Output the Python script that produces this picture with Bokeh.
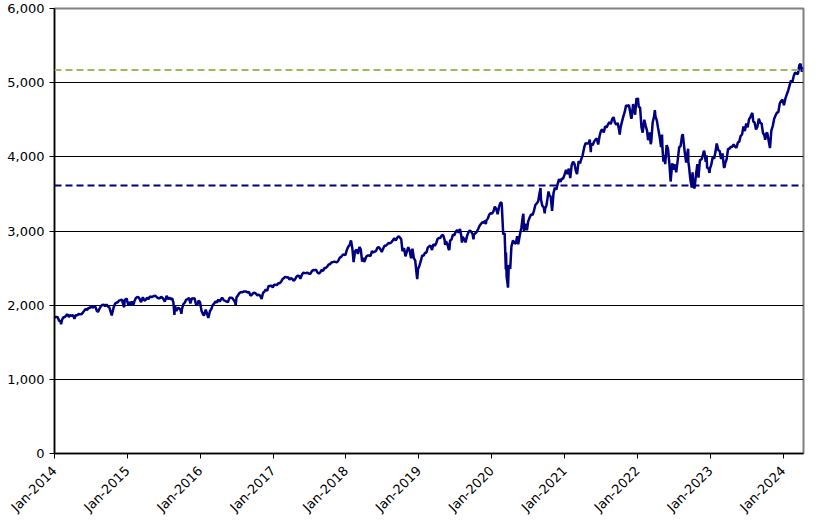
import pandas as pd
from math import pi
from bokeh.plotting import figure
from bokeh.models import Span, FixedTicker, DatetimeTickFormatter, NumeralTickFormatter, Range1d
from bokeh.embed import file_html
from bokeh.resources import INLINE

# ---- data: (month-day, index level) per year ----
sp_2014 = [("01-03", 1831), ("01-10", 1842), ("01-17", 1838), ("01-24", 1790), ("01-31", 1783), ("02-03", 1742),
           ("02-07", 1797), ("02-14", 1838), ("02-21", 1836), ("02-28", 1859), ("03-07", 1878), ("03-14", 1841),
           ("03-21", 1866), ("03-28", 1857), ("04-04", 1865), ("04-11", 1816), ("04-17", 1864), ("04-25", 1863),
           ("05-02", 1881), ("05-09", 1878), ("05-16", 1878), ("05-23", 1900), ("05-30", 1924), ("06-06", 1950),
           ("06-13", 1936), ("06-20", 1963), ("06-27", 1961), ("07-03", 1985), ("07-11", 1967), ("07-18", 1978),
           ("07-25", 1978), ("08-01", 1925), ("08-07", 1910), ("08-15", 1955), ("08-22", 1988), ("08-29", 2003),
           ("09-05", 2007), ("09-12", 1985), ("09-19", 2010), ("09-26", 1983), ("10-03", 1968), ("10-10", 1906),
           ("10-15", 1862), ("10-17", 1887), ("10-24", 1965), ("10-31", 2018), ("11-07", 2032), ("11-14", 2039),
           ("11-21", 2064), ("11-28", 2068), ("12-05", 2075), ("12-12", 2003), ("12-16", 1972), ("12-19", 2071),
           ("12-29", 2090), ("12-31", 2059)]
sp_2015 = [("01-06", 2003), ("01-09", 2045), ("01-15", 1993), ("01-23", 2051), ("01-30", 1995), ("02-06", 2055),
           ("02-13", 2096), ("02-20", 2110), ("02-27", 2105), ("03-06", 2071), ("03-11", 2040), ("03-20", 2108),
           ("03-27", 2061), ("04-02", 2067), ("04-10", 2102), ("04-17", 2081), ("04-24", 2117), ("05-01", 2108),
           ("05-08", 2116), ("05-15", 2123), ("05-22", 2126), ("05-29", 2107), ("06-05", 2093), ("06-12", 2094),
           ("06-19", 2110), ("06-26", 2102), ("07-02", 2077), ("07-08", 2046), ("07-17", 2127), ("07-24", 2079),
           ("07-31", 2104), ("08-07", 2078), ("08-14", 2092), ("08-20", 2035), ("08-25", 1868), ("08-28", 1989),
           ("09-04", 1921), ("09-11", 1961), ("09-18", 1958), ("09-25", 1932), ("09-29", 1884), ("10-02", 1951),
           ("10-09", 2015), ("10-16", 2033), ("10-23", 2075), ("10-30", 2079), ("11-06", 2099), ("11-13", 2023),
           ("11-20", 2089), ("11-27", 2090), ("12-04", 2092), ("12-11", 2012), ("12-18", 2006), ("12-24", 2061),
           ("12-31", 2044)]
sp_2016 = [("01-08", 1922), ("01-15", 1880), ("01-20", 1859), ("01-29", 1940), ("02-05", 1880), ("02-11", 1829),
           ("02-19", 1918), ("02-26", 1948), ("03-04", 2000), ("03-11", 2022), ("03-18", 2050), ("03-24", 2036),
           ("04-01", 2073), ("04-08", 2048), ("04-15", 2081), ("04-20", 2102), ("04-29", 2065), ("05-06", 2057),
           ("05-13", 2047), ("05-19", 2040), ("05-27", 2099), ("06-03", 2099), ("06-10", 2096), ("06-17", 2071),
           ("06-24", 2037), ("06-27", 2000), ("07-01", 2103), ("07-08", 2130), ("07-15", 2161), ("07-22", 2175),
           ("07-29", 2174), ("08-05", 2183), ("08-12", 2184), ("08-19", 2184), ("08-26", 2169), ("09-02", 2180),
           ("09-09", 2128), ("09-16", 2139), ("09-23", 2165), ("09-30", 2168), ("10-07", 2153), ("10-14", 2133),
           ("10-21", 2141), ("10-28", 2126), ("11-04", 2085), ("11-11", 2164), ("11-18", 2182), ("11-25", 2213),
           ("12-02", 2192), ("12-09", 2260), ("12-16", 2258), ("12-23", 2264), ("12-30", 2239)]
sp_2017 = [("01-06", 2277), ("01-13", 2275), ("01-20", 2271), ("01-27", 2295), ("02-03", 2297), ("02-10", 2316),
           ("02-17", 2351), ("02-24", 2367), ("03-03", 2383), ("03-10", 2373), ("03-17", 2378), ("03-24", 2344),
           ("03-31", 2363), ("04-07", 2355), ("04-13", 2329), ("04-21", 2349), ("04-28", 2384), ("05-05", 2399),
           ("05-12", 2391), ("05-17", 2357), ("05-26", 2416), ("06-02", 2439), ("06-09", 2432), ("06-16", 2433),
           ("06-23", 2438), ("06-30", 2423), ("07-07", 2425), ("07-14", 2459), ("07-21", 2473), ("07-28", 2472),
           ("08-04", 2477), ("08-11", 2441), ("08-18", 2426), ("08-25", 2443), ("09-01", 2477), ("09-08", 2461),
           ("09-15", 2500), ("09-22", 2502), ("09-29", 2519), ("10-06", 2549), ("10-13", 2553), ("10-20", 2575),
           ("10-27", 2581), ("11-03", 2587), ("11-10", 2582), ("11-17", 2579), ("11-24", 2602), ("12-01", 2642),
           ("12-08", 2652), ("12-15", 2676), ("12-22", 2683), ("12-29", 2674)]
sp_2018 = [("01-05", 2743), ("01-12", 2786), ("01-19", 2810), ("01-26", 2873), ("02-02", 2762), ("02-08", 2581),
           ("02-16", 2732), ("02-23", 2747), ("03-02", 2691), ("03-09", 2786), ("03-16", 2752), ("03-23", 2588),
           ("03-29", 2641), ("04-02", 2582), ("04-06", 2604), ("04-13", 2656), ("04-20", 2670), ("04-27", 2670),
           ("05-04", 2663), ("05-11", 2728), ("05-18", 2713), ("05-25", 2721), ("06-01", 2735), ("06-08", 2779),
           ("06-15", 2780), ("06-22", 2755), ("06-29", 2718), ("07-06", 2760), ("07-13", 2801), ("07-20", 2802),
           ("07-27", 2819), ("08-03", 2840), ("08-10", 2833), ("08-17", 2850), ("08-24", 2875), ("08-31", 2902),
           ("09-07", 2872), ("09-14", 2905), ("09-21", 2930), ("09-28", 2914), ("10-05", 2885), ("10-11", 2728),
           ("10-19", 2768), ("10-26", 2658), ("11-02", 2723), ("11-09", 2781), ("11-16", 2736), ("11-23", 2633),
           ("11-30", 2760), ("12-07", 2633), ("12-14", 2600), ("12-21", 2417), ("12-24", 2351), ("12-28", 2486)]
sp_2019 = [("01-04", 2532), ("01-11", 2596), ("01-18", 2671), ("01-25", 2665), ("02-01", 2707), ("02-08", 2708),
           ("02-15", 2775), ("02-22", 2793), ("03-01", 2804), ("03-08", 2743), ("03-15", 2822), ("03-22", 2801),
           ("03-29", 2834), ("04-05", 2893), ("04-12", 2907), ("04-18", 2905), ("04-26", 2940), ("05-03", 2946),
           ("05-10", 2881), ("05-13", 2812), ("05-17", 2860), ("05-24", 2826), ("05-31", 2752), ("06-03", 2744),
           ("06-07", 2873), ("06-14", 2887), ("06-21", 2950), ("06-28", 2942), ("07-05", 2990), ("07-12", 3014),
           ("07-19", 2977), ("07-26", 3026), ("08-02", 2932), ("08-05", 2844), ("08-09", 2919), ("08-16", 2889),
           ("08-23", 2847), ("08-30", 2926), ("09-06", 2979), ("09-13", 3007), ("09-20", 2992), ("09-27", 2962),
           ("10-02", 2887), ("10-04", 2952), ("10-11", 2970), ("10-18", 2986), ("10-25", 3023), ("11-01", 3067),
           ("11-08", 3093), ("11-15", 3120), ("11-22", 3110), ("11-29", 3141), ("12-03", 3093), ("12-06", 3146),
           ("12-13", 3169), ("12-20", 3221), ("12-27", 3240)]
sp_2020 = [("01-03", 3235), ("01-10", 3265), ("01-17", 3330), ("01-24", 3295), ("01-31", 3226), ("02-07", 3328),
           ("02-14", 3380), ("02-19", 3386), ("02-21", 3338), ("02-28", 2954), ("03-06", 2972), ("03-12", 2481),
           ("03-13", 2711), ("03-16", 2386), ("03-20", 2305), ("03-23", 2237), ("03-27", 2541), ("04-03", 2489),
           ("04-09", 2790), ("04-17", 2875), ("04-24", 2837), ("05-01", 2831), ("05-08", 2930), ("05-13", 2820),
           ("05-22", 2955), ("05-29", 3044), ("06-05", 3194), ("06-08", 3232), ("06-11", 3002), ("06-19", 3098),
           ("06-26", 3009), ("07-02", 3130), ("07-10", 3185), ("07-17", 3225), ("07-24", 3216), ("07-31", 3271),
           ("08-07", 3351), ("08-14", 3373), ("08-21", 3397), ("08-28", 3508), ("09-02", 3580), ("09-04", 3427),
           ("09-11", 3341), ("09-18", 3319), ("09-23", 3237), ("09-25", 3298), ("10-02", 3348), ("10-09", 3477),
           ("10-12", 3534), ("10-16", 3484), ("10-23", 3465), ("10-30", 3270), ("11-06", 3510), ("11-13", 3585),
           ("11-20", 3558), ("11-27", 3638), ("12-04", 3699), ("12-11", 3663), ("12-18", 3709), ("12-24", 3703),
           ("12-31", 3756)]
sp_2021 = [("01-08", 3824), ("01-15", 3768), ("01-22", 3841), ("01-29", 3714), ("02-05", 3887), ("02-12", 3934),
           ("02-19", 3907), ("02-26", 3811), ("03-04", 3768), ("03-12", 3943), ("03-19", 3913), ("03-26", 3975),
           ("04-01", 4020), ("04-09", 4129), ("04-16", 4185), ("04-23", 4180), ("04-30", 4181), ("05-07", 4232),
           ("05-12", 4063), ("05-14", 4174), ("05-21", 4156), ("05-28", 4204), ("06-04", 4230), ("06-11", 4247),
           ("06-18", 4166), ("06-25", 4281), ("07-02", 4352), ("07-09", 4370), ("07-16", 4327), ("07-23", 4412),
           ("07-30", 4395), ("08-06", 4437), ("08-13", 4468), ("08-20", 4442), ("08-27", 4509), ("09-03", 4535),
           ("09-10", 4459), ("09-17", 4433), ("09-24", 4455), ("10-01", 4357), ("10-04", 4300), ("10-08", 4391),
           ("10-15", 4471), ("10-22", 4545), ("10-29", 4605), ("11-05", 4697), ("11-12", 4683), ("11-19", 4698),
           ("11-26", 4595), ("12-01", 4513), ("12-03", 4538), ("12-10", 4712), ("12-17", 4620), ("12-20", 4568),
           ("12-27", 4791), ("12-31", 4766)]
sp_2022 = [("01-03", 4796), ("01-07", 4677), ("01-14", 4663), ("01-21", 4398), ("01-27", 4326), ("02-04", 4501),
           ("02-11", 4419), ("02-18", 4349), ("02-23", 4225), ("03-04", 4329), ("03-08", 4170), ("03-11", 4204),
           ("03-18", 4463), ("03-25", 4543), ("03-29", 4631), ("04-01", 4546), ("04-08", 4488), ("04-14", 4393),
           ("04-22", 4272), ("04-29", 4132), ("05-04", 4300), ("05-06", 4123), ("05-11", 3936), ("05-13", 4024),
           ("05-20", 3901), ("05-27", 4158), ("06-03", 4109), ("06-10", 3901), ("06-16", 3667), ("06-24", 3912),
           ("07-01", 3825), ("07-08", 3899), ("07-14", 3790), ("07-22", 3962), ("07-29", 4130), ("08-05", 4145),
           ("08-12", 4280), ("08-16", 4305), ("08-19", 4228), ("08-26", 4058), ("09-02", 3924), ("09-09", 4067),
           ("09-12", 4110), ("09-13", 3932), ("09-16", 3873), ("09-23", 3693), ("09-30", 3586), ("10-04", 3791),
           ("10-07", 3640), ("10-12", 3577), ("10-14", 3583), ("10-21", 3753), ("10-28", 3901), ("11-03", 3720),
           ("11-04", 3771), ("11-10", 3956), ("11-18", 3965), ("11-25", 4026), ("11-30", 4080), ("12-02", 4072),
           ("12-09", 3934), ("12-13", 4019), ("12-16", 3852), ("12-23", 3845), ("12-28", 3783), ("12-30", 3840)]
sp_2023 = [("01-06", 3895), ("01-13", 3999), ("01-20", 3973), ("01-27", 4071), ("02-02", 4180), ("02-10", 4090),
           ("02-17", 4079), ("02-24", 3970), ("03-03", 4045), ("03-10", 3862), ("03-13", 3855), ("03-17", 3917),
           ("03-24", 3971), ("03-31", 4109), ("04-06", 4105), ("04-14", 4138), ("04-21", 4133), ("04-28", 4169),
           ("05-05", 4136), ("05-12", 4124), ("05-19", 4192), ("05-26", 4205), ("06-02", 4282), ("06-09", 4299),
           ("06-16", 4410), ("06-23", 4348), ("06-30", 4450), ("07-07", 4399), ("07-14", 4505), ("07-21", 4536),
           ("07-28", 4582), ("07-31", 4589), ("08-04", 4478), ("08-11", 4464), ("08-18", 4370), ("08-25", 4406),
           ("09-01", 4515), ("09-08", 4457), ("09-15", 4450), ("09-22", 4320), ("09-29", 4288), ("10-03", 4229),
           ("10-06", 4308), ("10-13", 4327), ("10-20", 4224), ("10-27", 4117), ("11-03", 4358), ("11-10", 4415),
           ("11-17", 4514), ("11-24", 4559), ("12-01", 4595), ("12-08", 4604), ("12-15", 4719), ("12-22", 4754),
           ("12-29", 4770)]
sp_2024 = [("01-05", 4697), ("01-12", 4784), ("01-19", 4840), ("01-26", 4891), ("02-02", 4959), ("02-09", 5027),
           ("02-16", 5006), ("02-23", 5089), ("03-01", 5137), ("03-08", 5124), ("03-15", 5117), ("03-22", 5234),
           ("03-28", 5254), ("04-04", 5147), ("04-05", 5204), ("04-10", 5161)]

series_by_year = {2014: sp_2014, 2015: sp_2015, 2016: sp_2016, 2017: sp_2017, 2018: sp_2018,
                  2019: sp_2019, 2020: sp_2020, 2021: sp_2021, 2022: sp_2022, 2023: sp_2023, 2024: sp_2024}

upper_level = 5170
lower_level = 3615
tick_years = list(range(2014, 2025))
y_ticks = [0, 1000, 2000, 3000, 4000, 5000, 6000]

dates, closes = [], []
for yr, rows in series_by_year.items():
    for md, v in rows:
        dates.append(pd.Timestamp(f"{yr}-{md}"))
        closes.append(v)

p = figure(width=813, height=522, output_backend="svg", toolbar_location=None,
           x_axis_type="datetime",
           x_range=Range1d(pd.Timestamp("2014-01-01"), pd.Timestamp("2024-04-12")),
           y_range=Range1d(0, 6000),
           min_border_left=54, min_border_top=8, min_border_right=10, min_border_bottom=68,
           background_fill_color="white", border_fill_color="white")

p.outline_line_color = "#808080"
p.outline_line_width = 2

p.xgrid.grid_line_color = None
p.ygrid.grid_line_color = "black"
p.ygrid.grid_line_width = 1
p.ygrid.ticker = FixedTicker(ticks=y_ticks)

p.line(dates, closes, line_color="#000080", line_width=2.5)

p.add_layout(Span(location=upper_level, dimension="width", line_color="#9BBB59",
                  line_dash="7 4", line_width=2))
p.add_layout(Span(location=lower_level, dimension="width", line_color="#000080",
                  line_dash="7 4", line_width=2))

font = "DejaVu Sans"
p.yaxis.ticker = FixedTicker(ticks=y_ticks)
p.yaxis.formatter = NumeralTickFormatter(format="0,0")
p.xaxis.ticker = FixedTicker(ticks=[pd.Timestamp(f"{y}-01-01").timestamp() * 1000 for y in tick_years])
fmt = "%b-%Y"
p.xaxis.formatter = DatetimeTickFormatter(years=fmt, months=fmt, days=fmt, hours=fmt,
                                          hourmin=fmt, minutes=fmt, minsec=fmt, seconds=fmt,
                                          milliseconds=fmt, microseconds=fmt)
p.xaxis.major_label_orientation = pi / 4

for ax in (p.xaxis, p.yaxis):
    ax.axis_line_color = "black"
    ax.axis_line_width = 1.5
    ax.major_tick_line_color = "black"
    ax.major_tick_out = 5
    ax.major_tick_in = 0
    ax.minor_tick_line_color = None
    ax.major_label_text_font = font
    ax.major_label_text_font_size = "13px"
    ax.major_label_text_color = "black"
p.xaxis.major_label_standoff = 10
p.yaxis.major_label_standoff = 5

open("out.html", "w").write(file_html(p, INLINE))
